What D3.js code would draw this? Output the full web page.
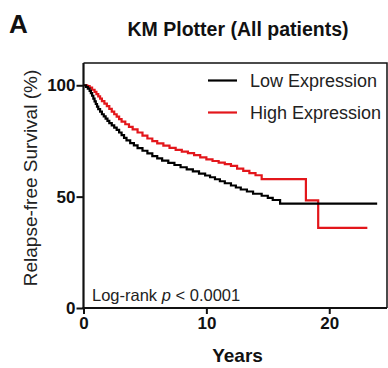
<!DOCTYPE html>
<html>
<head>
<meta charset="utf-8">
<script src="https://cdn.jsdelivr.net/npm/d3@7"></script>
<style>
  body { margin: 0; background: #fff; }
  svg text { font-family: Arial, "Liberation Sans", sans-serif; fill: #111; }
</style>
</head>
<body>
<script>
// survival curves (years, %)
var lowTimes = [0, 0.2, 0.35, 0.5, 0.6, 0.7, 0.8, 0.9, 1.0, 1.1, 1.2, 1.35, 1.5, 1.65, 1.8, 1.95, 2.1, 2.3, 2.5, 2.7, 2.9, 3.1, 3.3, 3.5, 3.8, 4.1, 4.4, 4.8, 5.2, 5.6, 6.0, 6.4, 6.9, 7.4, 7.9, 8.4, 8.9, 9.4, 9.9, 10.3, 10.7, 11.1, 11.5, 12.0, 12.4, 12.8, 13.3, 13.8, 14.5, 15.0, 15.4, 16.0, 23.9]
var lowSurv  = [100, 99.3, 98.5, 97.5, 96.5, 95.3, 94, 92.8, 91.6, 90.4, 89.3, 88.2, 87, 86, 85, 84, 83, 82, 81, 80, 78.8, 77.6, 76.4, 75.3, 74, 73, 71.8, 70.6, 69.4, 68.2, 67.2, 66.2, 65.2, 64.2, 63.2, 62.2, 61.3, 60.3, 59.5, 58.7, 57.8, 56.9, 56, 55, 54.1, 53.2, 52.3, 51.3, 50.4, 49.4, 48.5, 46.9, 46.9]

var highTimes = [0, 0.3, 0.5, 0.7, 0.9, 1.05, 1.2, 1.35, 1.5, 1.7, 1.9, 2.1, 2.3, 2.5, 2.7, 2.9, 3.1, 3.4, 3.7, 4.0, 4.4, 4.8, 5.2, 5.6, 6.0, 6.5, 7.0, 7.5, 8.0, 8.5, 9.0, 9.5, 10.0, 10.5, 11.0, 11.5, 12.0, 12.5, 13.0, 13.5, 14.0, 14.5, 18.1, 19.1, 23.1]
var highSurv  = [100, 99.6, 99, 98, 97, 96, 95, 94, 92.9, 91.8, 90.6, 89.4, 88.2, 87, 85.9, 84.8, 83.7, 82.5, 81.3, 80.2, 78.8, 77.4, 76.1, 74.9, 73.9, 72.9, 71.9, 71, 70.2, 69.5, 68.6, 67.6, 66.7, 66, 65.3, 64.6, 63.8, 62.6, 61.6, 60.6, 59.6, 57.9, 48.3, 36, 36]

var seriesNames  = ["Low Expression", "High Expression"]
var seriesColors = ["#000000", "#e3161b"]
var xTicks = [0, 10, 20]
var yTicks = [0, 50, 100]

var width = 388, height = 368
var margin = {top: 63, right: 1, bottom: 60, left: 83.5}

var svg = d3.select("body").append("svg")
    .attr("width", width)
    .attr("height", height)

var x = d3.scaleLinear().domain([0, 24.7]).range([margin.left, width - margin.right])
var y = d3.scaleLinear().domain([0, 110]).range([height - margin.bottom, margin.top])

// panel letter + title
svg.append("text").attr("x", 9).attr("y", 33)
    .style("font-size", "26px").style("font-weight", "bold").text("A")
svg.append("text").attr("x", 238).attr("y", 36).attr("text-anchor", "middle")
    .style("font-size", "19.5px").style("font-weight", "bold").text("KM Plotter (All patients)")

// frame (top + right)
svg.append("path")
    .attr("d", "M" + x(0) + "," + y(110) + "H" + x(24.7) + "V" + y(0))
    .attr("fill", "none").attr("stroke", "#111").attr("stroke-width", 1.5)

// curves
var line = d3.line().curve(d3.curveStepAfter)
    .x(function(d) { return x(d[0]) })
    .y(function(d) { return y(d[1]) })

var curves = [d3.zip(lowTimes, lowSurv), d3.zip(highTimes, highSurv)]
// red first, black on top where they overlap
svg.selectAll("path.curve")
    .data([1, 0])
  .enter().append("path")
    .attr("class", "curve")
    .attr("d", function(i) { return line(curves[i]) })
    .attr("fill", "none")
    .attr("stroke", function(i) { return seriesColors[i] })
    .attr("stroke-width", 2.2)

// axes
var xAxis = svg.append("g")
    .attr("transform", "translate(0," + y(0) + ")")
    .call(d3.axisBottom(x).tickValues(xTicks).tickSize(6).tickPadding(3))
var yAxis = svg.append("g")
    .attr("transform", "translate(" + x(0) + ",0)")
    .call(d3.axisLeft(y).tickValues(yTicks).tickSize(7).tickPadding(1))

;[xAxis, yAxis].forEach(function(g) {
  g.select(".domain").attr("stroke", "#111").attr("stroke-width", 2.2)
  g.selectAll(".tick line").attr("stroke", "#111").attr("stroke-width", 2)
  g.selectAll(".tick text")
    .style("font-size", "17px").style("font-weight", "bold")
    .style("font-family", "Arial, 'Liberation Sans', sans-serif").attr("fill", "#111")
})
// extend x axis line to the frame
xAxis.select(".domain").attr("d", "M" + (x(0) - 1) + ",0H" + x(24.7))
yAxis.select(".domain").attr("d", "M0," + y(0) + "V" + y(110))

// axis titles
svg.append("text").attr("x", 237.5).attr("y", 362).attr("text-anchor", "middle")
    .style("font-size", "19px").style("font-weight", "bold").text("Years")
svg.append("text")
    .attr("transform", "translate(37,178) rotate(-90)")
    .attr("text-anchor", "middle")
    .style("font-size", "19px").style("fill", "#222")
    .text("Relapse-free Survival (%)")

// log-rank label
var lr = svg.append("text").attr("x", 92).attr("y", 301).style("font-size", "16.5px").style("fill", "#222")
lr.append("tspan").text("Log-rank ")
lr.append("tspan").style("font-style", "italic").text("p")
lr.append("tspan").text(" < 0.0001")

// legend
var legend = svg.selectAll("g.legend")
    .data(seriesNames)
  .enter().append("g")
    .attr("class", "legend")
    .attr("transform", function(d, i) { return "translate(208," + (80.5 + i * 32) + ")" })
legend.append("line")
    .attr("x1", 0).attr("x2", 29)
    .attr("stroke", function(d, i) { return seriesColors[i] })
    .attr("stroke-width", 2.2)
legend.append("text")
    .attr("x", 42).attr("y", 6.5)
    .style("font-size", "18px").style("fill", "#222")
    .text(function(d) { return d })
</script>
</body>
</html>
